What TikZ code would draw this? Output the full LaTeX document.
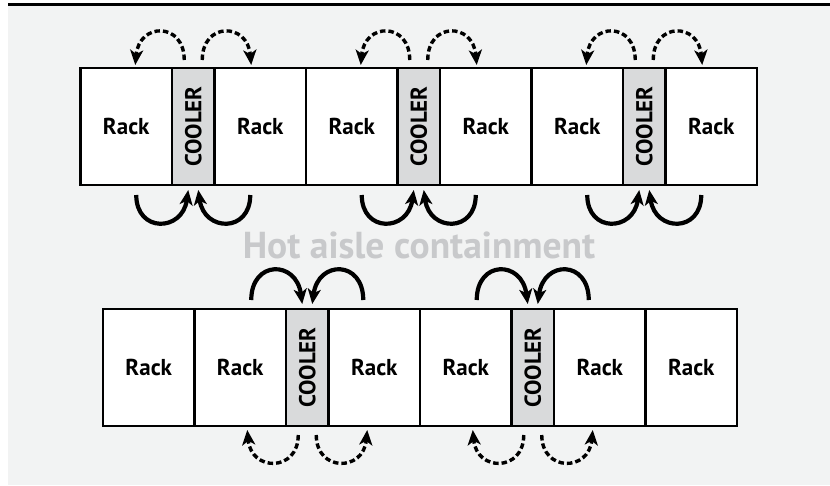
\documentclass[tikz,border=0pt]{standalone}
\usepackage{fontspec,graphicx}
\setmainfont{PT Sans}
\usetikzlibrary{arrows.meta,positioning}
\definecolor{paper}{HTML}{F2F3F3}
\definecolor{coolgray}{HTML}{D9DADB}
\definecolor{hotgray}{HTML}{C8C9CB}

\begin{document}
\begin{tikzpicture}[x=1pt,y=-1pt,node distance=0pt, every node/.style={font=\bfseries\fontsize{23}{27}\selectfont,inner sep=0pt,outer sep=0pt}, rack/.style={draw,line width=2.5pt,fill=white,minimum width=91.5pt,minimum height=117pt}, cooler/.style={rack,fill=coolgray,minimum width=42.5pt}, solidflow/.style={-{Stealth[length=15pt,width=13pt,inset=4pt]},line width=4.2pt}, airflow/.style={-{Stealth[length=15pt,width=13pt,inset=4pt]},line width=3.4pt,dash pattern=on 5.5pt off 3pt}]
\useasboundingbox (0,0) rectangle (830,485);
\fill[paper] (8,6) rectangle (830,485);
\fill[black] (8,2.7) rectangle (830,6);
% upper row
\node[rack,anchor=north west] (r1) at (80.5,68) {Rack};
\node[cooler,right=of r1] (c1) {\rotatebox{90}{COOLER}};
\node[rack,right=of c1] (r2) {Rack};
\node[rack,right=of r2] (r3) {Rack};
\node[cooler,right=of r3] (c2) {\rotatebox{90}{COOLER}};
\node[rack,right=of c2] (r4) {Rack};
\node[rack,right=of r4] (r5) {Rack};
\node[cooler,right=of r5] (c3) {\rotatebox{90}{COOLER}};
\node[rack,right=of c3] (r6) {Rack};
% lower row
\node[rack,anchor=north west] (s1) at (103,309) {Rack};
\node[rack,right=of s1] (s2) {Rack};
\node[cooler,right=of s2] (d1) {\rotatebox{90}{COOLER}};
\node[rack,right=of d1] (s3) {Rack};
\node[rack,right=of s3] (s4) {Rack};
\node[cooler,right=of s4] (d2) {\rotatebox{90}{COOLER}};
\node[rack,right=of d2] (s5) {Rack};
\node[rack,right=of s5] (s6) {Rack};
\node[font=\bfseries\fontsize{37.5}{42}\selectfont,text=hotgray] (hot) at (419,245) {Hot aisle containment};
% air flows
\foreach \c in {c1,c2,c3}{
\draw[airflow] ([xshift=-9pt,yshift=8pt]\c.north) .. controls +(0,-38) and +(4,-43) .. ([xshift=-58pt,yshift=3pt]\c.north);
\draw[airflow] ([xshift=9pt,yshift=8pt]\c.north) .. controls +(0,-38) and +(-4,-43) .. ([xshift=58pt,yshift=3pt]\c.north);
\draw[solidflow] ([xshift=-57pt,yshift=-10pt]\c.south) .. controls +(0,38) and +(-6,42) .. ([xshift=-5pt,yshift=-5pt]\c.south);
\draw[solidflow] ([xshift=57pt,yshift=-10pt]\c.south) .. controls +(0,38) and +(6,42) .. ([xshift=5pt,yshift=-5pt]\c.south);
}
\foreach \c in {d1,d2}{
\draw[solidflow] ([xshift=-56pt,yshift=9pt]\c.north) .. controls +(0,-40) and +(-6,-44) .. ([xshift=-5pt,yshift=5pt]\c.north);
\draw[solidflow] ([xshift=56pt,yshift=9pt]\c.north) .. controls +(0,-40) and +(6,-44) .. ([xshift=5pt,yshift=5pt]\c.north);
\draw[airflow] ([xshift=-9pt,yshift=-9pt]\c.south) .. controls +(0,37) and +(4,42) .. ([xshift=-60pt,yshift=-4pt]\c.south);
\draw[airflow] ([xshift=9pt,yshift=-9pt]\c.south) .. controls +(0,37) and +(-4,42) .. ([xshift=60pt,yshift=-4pt]\c.south);
}
\end{tikzpicture}
\end{document}
